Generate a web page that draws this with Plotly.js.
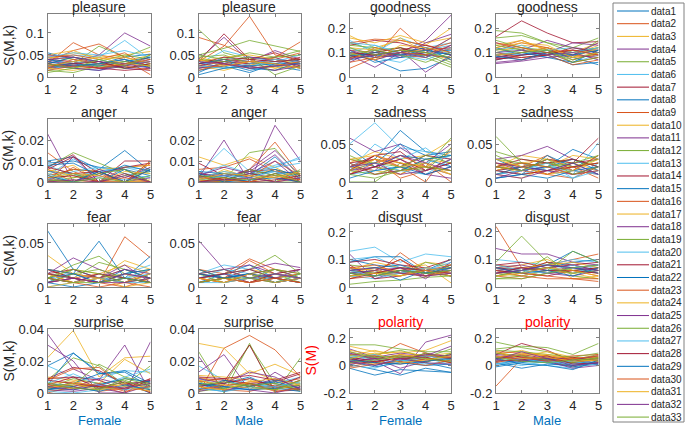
<!DOCTYPE html>
<html><head><meta charset="utf-8">
<script src="https://cdn.plot.ly/plotly-3.0.1.min.js"></script>
<style>html,body{margin:0;padding:0;background:#fff}#chart{width:685px;height:429px}</style>
</head><body><div id="chart"></div>
<script>
// x categories (k = 1..5)
const xCats = [1, 2, 3, 4, 5];
const seriesNames = ['data1','data2','data3','data4','data5','data6','data7','data8','data9','data10','data11','data12','data13','data14','data15','data16','data17','data18','data19','data20','data21','data22','data23','data24','data25','data26','data27','data28','data29','data30','data31','data32','data33'];
const groupLabels = ['Female', 'Male'];

// values in units of 0.001
const pleasureF = [[55,40,30,45,52],[30,78,50,40,5],[40,55,45,50,58],[25,35,50,100,70],[20,30,70,45,68],[35,50,45,83,40],[50,45,30,40,25],[25,20,15,30,35],[35,60,75,45,30],[45,40,25,35,50],[20,25,30,20,15],[30,45,35,50,40],[15,30,40,25,45],[40,35,20,30,45],[30,45,35,20,25],[45,50,40,55,20],[20,15,25,30,35],[35,30,20,25,40],[15,10,25,20,30],[25,35,30,40,30],[30,25,20,15,20],[40,30,25,35,45],[20,40,30,25,15],[50,60,40,45,30],[30,20,15,25,35],[10,20,30,35,25],[45,55,50,60,45],[25,30,35,20,30],[35,25,30,40,20],[15,25,20,30,40],[25,35,45,30,25],[40,45,35,30,20],[30,20,40,25,50]];
const pleasureM = [[10,35,20,25,15],[90,72,45,40,55],[30,20,25,15,30],[40,90,35,60,40],[108,55,40,45,60],[30,60,45,35,50],[35,98,40,55,35],[20,30,15,25,40],[35,70,138,50,40],[45,30,40,20,35],[25,40,30,45,20],[50,65,83,70,58],[20,45,35,25,30],[30,40,35,30,45],[15,25,10,30,20],[40,30,25,45,80],[25,15,30,20,25],[30,35,45,40,35],[45,50,30,35,40],[35,20,25,35,30],[25,35,30,40,25],[30,40,20,15,35],[20,25,35,30,20],[35,45,50,40,30],[20,30,25,15,25],[40,35,45,5,25],[25,20,30,40,35],[30,45,40,35,40],[5,20,25,30,30],[15,30,20,25,35],[40,25,35,30,20],[35,30,20,25,30],[50,40,55,45,50]];
const goodnessF = [[100,70,25,35,80],[35,80,200,110,90],[170,120,150,130,200],[90,40,100,150,253],[140,110,120,100,60],[150,100,160,120,140],[130,150,140,110,120],[110,60,80,90,100],[140,155,150,130,110],[160,140,170,140,160],[100,90,110,20,90],[80,100,120,80,40],[120,80,60,110,130],[90,70,100,120,90],[70,90,80,100,110],[110,100,90,80,120],[80,90,110,100,70],[60,110,80,140,175],[130,120,100,90,50],[100,130,90,70,110],[80,100,120,90,80],[95,80,100,120,70],[70,120,100,110,140],[120,110,160,100,160],[110,80,90,100,160],[90,110,90,60,100],[140,130,100,80,120],[100,90,110,130,100],[85,100,90,110,90],[60,80,100,90,130],[100,70,130,120,100],[75,90,100,80,130],[120,90,110,100,80]];
const goodnessM = [[80,100,90,50,60],[120,150,110,80,90],[100,130,120,90,130],[140,110,150,120,110],[190,180,140,120,160],[100,120,100,60,90],[165,230,180,140,145],[70,90,110,100,120],[110,140,120,70,100],[130,150,110,100,140],[60,70,90,110,100],[160,170,140,100,120],[90,110,80,90,110],[80,100,120,90,80],[120,90,100,80,50],[90,70,100,60,80],[110,120,90,100,110],[80,90,100,140,130],[150,120,110,80,150],[100,90,110,120,100],[70,90,100,110,90],[90,100,80,60,110],[100,80,90,50,70],[120,140,130,80,120],[55,65,80,90,140],[130,110,100,70,100],[110,130,90,100,120],[75,80,90,120,100],[85,70,100,90,110],[140,120,100,110,90],[90,100,120,80,100],[100,110,90,100,70],[115,100,110,60,80]];
// values in units of 0.0001
const angerF = [[100,120,60,150,50],[140,50,0,70,80],[50,80,0,0,100],[230,0,50,60,0],[70,140,90,40,0],[30,110,50,70,60],[70,130,0,100,100],[90,100,70,60,30],[60,0,40,0,90],[40,20,60,70,80],[0,120,0,0,0],[20,60,50,0,70],[80,30,50,70,40],[60,120,40,70,90],[50,40,0,60,0],[30,60,50,0,0],[0,0,0,0,0],[20,0,60,20,70],[0,40,0,30,50],[10,50,70,40,20],[70,40,50,0,60],[80,90,30,80,50],[0,70,0,0,100],[60,30,0,50,40],[10,0,30,0,20],[0,20,40,60,0],[40,0,20,10,30],[20,30,0,40,0],[30,0,50,0,60],[0,10,0,20,0],[20,40,30,0,10],[0,10,0,30,0],[10,0,20,0,30]];
const angerM = [[30,10,40,50,20],[50,0,60,190,30],[120,80,120,70,10],[20,200,0,270,100],[0,10,140,160,20],[40,160,50,70,120],[90,30,50,60,0],[20,40,30,120,10],[60,70,110,50,40],[20,50,30,60,20],[0,0,60,150,30],[10,0,50,0,0],[30,80,40,80,110],[40,20,60,30,0],[10,30,0,40,50],[30,0,20,100,30],[0,60,20,0,40],[40,30,50,130,10],[0,10,0,0,60],[20,50,30,70,90],[30,10,40,20,0],[50,40,20,60,30],[10,0,30,0,20],[0,20,0,30,10],[30,70,40,100,0],[20,0,60,30,40],[10,30,20,50,20],[0,20,0,10,30],[40,0,10,20,0],[20,10,0,40,10],[10,40,30,20,50],[0,10,20,0,20],[30,20,10,40,0]];
// values in units of 0.001
const sadnessF = [[20,30,68,40,35],[15,35,20,0,45],[25,40,30,35,55],[58,40,50,20,10],[0,0,25,20,58],[50,78,45,40,30],[20,35,40,15,25],[15,25,50,35,40],[30,20,10,25,0],[10,30,25,20,40],[20,15,45,25,50],[35,20,15,30,35],[15,50,30,45,20],[25,30,20,35,30],[45,20,35,30,20],[10,25,35,20,15],[20,15,10,30,25],[15,20,30,10,5],[30,25,20,15,45],[10,15,20,25,35],[15,35,25,10,20],[25,10,15,30,35],[20,30,5,15,30],[30,35,25,20,10],[10,20,35,25,15],[15,10,20,35,25],[20,25,15,10,30],[10,20,30,15,25],[5,15,20,10,20],[25,10,15,20,15],[15,30,20,25,10],[20,25,10,15,30],[10,5,15,20,15]];
const sadnessM = [[10,15,20,43,30],[25,20,35,15,10],[20,35,30,25,15],[30,35,47,30,20],[60,25,20,15,35],[15,20,25,10,52],[20,15,30,25,58],[5,10,35,20,25],[15,25,10,5,20],[10,5,20,35,30],[25,15,30,20,10],[35,20,25,30,20],[20,25,15,5,25],[15,20,10,25,30],[30,15,20,30,15],[10,20,25,15,35],[25,10,15,20,25],[5,15,20,10,15],[40,30,25,20,30],[15,10,20,15,10],[20,30,25,30,20],[10,20,15,25,10],[20,15,10,20,5],[15,25,30,20,25],[25,20,15,10,20],[30,25,20,25,35],[10,15,25,5,15],[15,10,15,20,25],[5,10,5,15,20],[20,25,20,10,15],[30,20,10,15,30],[10,5,15,25,10],[20,15,30,10,20]];
const fearF = [[64,20,10,5,15],[20,10,5,57,33],[36,15,10,30,20],[15,33,20,10,5],[10,25,35,15,20],[5,20,10,15,25],[20,10,5,15,10],[5,15,52,10,35],[15,5,10,20,10],[10,20,15,25,15],[20,15,10,25,5],[15,10,28,20,10],[10,5,15,10,20],[15,20,10,5,15],[10,15,5,20,10],[5,10,15,5,20],[20,15,10,15,5],[10,5,10,20,15],[5,15,20,10,5],[15,10,5,10,15],[10,5,15,10,5],[20,15,5,15,20],[5,10,5,0,10],[15,5,10,5,15],[5,10,5,15,10],[10,20,15,5,10],[0,5,10,5,5],[15,10,5,10,5],[5,0,5,10,5],[10,5,0,5,0],[0,5,10,0,5],[5,10,5,5,10],[10,5,5,10,5]];
const fearM = [[10,15,25,10,5],[20,15,32,20,15],[15,10,20,15,10],[53,20,25,15,20],[10,15,20,36,15],[15,25,20,10,15],[10,5,15,20,10],[5,10,15,5,10],[20,10,30,15,10],[10,15,5,10,15],[15,10,20,27,22],[5,10,15,20,10],[10,20,15,5,10],[15,10,5,15,20],[5,15,10,10,5],[10,5,15,10,15],[20,10,5,15,10],[5,10,15,5,10],[15,5,10,15,5],[10,15,10,5,15],[5,10,5,15,10],[15,10,15,10,5],[10,5,10,5,10],[5,10,5,10,5],[10,15,5,10,20],[15,20,10,5,15],[5,5,10,15,10],[10,15,20,10,5],[20,10,15,5,10],[5,10,5,10,5],[10,5,15,5,10],[15,20,10,15,10],[5,10,10,20,15]];
const disgustF = [[100,80,70,60,100],[50,40,125,60,70],[60,90,70,80,15],[120,30,60,40,80],[10,20,25,35,40],[130,145,90,120,110],[40,60,100,50,60],[90,110,110,50,80],[70,60,100,40,50],[50,70,60,90,80],[60,50,70,30,90],[80,70,50,60,70],[100,110,70,60,90],[90,100,80,70,100],[50,60,25,60,40],[40,50,60,70,60],[30,60,50,40,70],[70,40,60,50,60],[60,50,40,90,70],[40,30,50,60,50],[80,30,40,60,40],[60,70,80,50,60],[30,40,50,60,80],[70,60,40,70,50],[50,60,70,40,70],[40,50,60,50,40],[60,40,50,70,60],[30,50,70,60,50],[50,40,60,50,70],[70,80,50,40,60],[40,50,40,60,40],[60,70,50,40,50],[50,40,60,50,60]];
const disgustM = [[70,60,80,130,90],[220,70,80,100,120],[80,60,90,30,40],[140,120,120,90,80],[90,185,90,60,70],[100,90,80,100,90],[70,60,90,80,60],[60,50,70,90,100],[80,70,60,50,70],[70,80,100,60,50],[50,60,70,80,60],[40,50,110,40,30],[60,70,60,50,80],[80,90,70,80,90],[50,60,50,70,60],[40,30,50,60,40],[60,70,80,90,70],[70,80,60,70,80],[30,40,60,130,90],[50,40,60,80,50],[60,50,40,60,70],[40,60,80,70,50],[70,50,40,30,20],[50,40,60,50,30],[60,70,50,40,60],[40,60,70,50,60],[80,60,50,70,80],[50,70,60,60,50],[70,50,60,40,70],[60,40,30,30,30],[40,50,70,60,40],[50,60,80,70,60],[30,30,50,70,80]];
// values in units of 0.0001
const surpriseF = [[170,250,130,60,0],[30,50,40,20,80],[220,390,100,220,230],[370,150,80,300,0],[80,220,170,50,170],[170,100,90,140,130],[90,160,140,60,70],[50,250,120,140,60],[20,70,40,0,90],[100,80,60,210,120],[300,200,0,0,320],[30,90,60,80,20],[60,120,50,100,150],[90,100,80,20,80],[40,60,120,130,40],[80,150,160,40,10],[10,30,20,60,30],[60,40,90,50,80],[20,50,180,100,60],[70,30,60,20,40],[50,100,30,70,0],[30,20,50,90,70],[0,40,10,30,60],[60,70,40,50,20],[20,10,30,0,50],[40,60,30,70,40],[10,0,20,40,30],[80,60,40,30,90],[20,40,10,50,20],[50,30,60,10,40],[30,60,20,40,10],[40,20,50,30,60],[60,30,20,90,50]];
const surpriseM = [[60,30,50,40,20],[0,280,360,270,100],[310,280,120,180,110],[230,10,60,20,80],[260,0,310,0,220],[170,80,60,40,30],[90,80,60,70,120],[40,60,100,30,50],[80,40,70,60,90],[100,60,140,80,40],[130,240,20,130,40],[20,50,300,60,10],[50,30,90,60,100],[40,70,300,10,20],[30,10,40,80,60],[70,90,50,30,80],[110,100,80,40,70],[60,20,40,90,30],[10,30,60,20,50],[90,40,20,50,60],[50,60,90,40,100],[20,80,40,70,30],[40,20,10,50,20],[80,50,30,20,60],[10,40,20,0,40],[70,30,50,60,20],[30,10,30,40,70],[100,90,110,80,130],[60,40,20,30,10],[20,50,60,10,30],[40,20,70,90,50],[90,60,130,100,20],[50,70,40,20,80]];
// values in units of 0.001
const polarityF = [[-20,-70,-30,-40,-50],[20,60,160,90,40],[140,100,90,110,180],[60,30,-60,170,220],[150,150,120,100,100],[90,20,60,40,80],[40,70,30,90,60],[10,-30,-70,-20,-50],[100,40,80,60,20],[70,110,60,80,50],[120,60,90,70,140],[50,80,110,60,120],[80,40,20,60,0],[30,50,70,40,80],[60,0,40,20,-20],[-10,30,10,50,30],[110,80,100,70,90],[20,50,-20,30,60],[70,60,30,90,40],[0,-20,40,10,30],[50,20,60,70,50],[30,-10,20,0,10],[80,70,50,30,60],[40,10,80,50,20],[90,50,40,80,70],[20,40,60,20,90],[60,80,30,70,40],[10,30,50,60,20],[40,20,10,30,50],[-20,10,30,0,40],[50,90,20,40,70],[30,0,50,20,10],[100,60,70,50,30]];
const polarityM = [[20,-20,10,0,30],[-150,50,30,-10,20],[80,110,60,40,70],[60,40,20,30,50],[170,130,100,40,80],[30,60,40,10,40],[80,160,110,30,60],[0,30,20,-10,10],[100,90,70,50,60],[50,70,100,60,40],[70,50,40,20,10],[120,140,130,80,160],[40,20,0,-20,30],[60,80,50,20,40],[10,40,30,0,20],[90,60,50,70,80],[30,80,70,40,60],[80,60,30,-20,0],[110,100,80,60,90],[20,0,30,10,50],[50,70,40,60,30],[-10,20,50,30,10],[70,40,60,20,50],[60,90,80,50,30],[40,30,60,40,70],[90,70,40,20,60],[10,50,20,30,0],[30,40,70,10,20],[50,10,0,-30,40],[20,60,30,50,70],[100,50,60,30,40],[40,100,50,0,20],[60,30,20,40,50]];

// tick values / labels
const tickPleasure = [0, 0.05, 0.1], lblPleasure = ['0', '0.05', '0.1'];
const tickGoodness = [0, 0.1, 0.2], lblGoodness = ['0', '0.1', '0.2'];
const tickAnger = [0, 0.01, 0.02], lblAnger = ['0', '0.01', '0.02'];
const tickSadness = [0, 0.05], lblSadness = ['0', '0.05'];
const tickFear = [0, 0.05], lblFear = ['0', '0.05'];
const tickDisgust = [0, 0.1, 0.2], lblDisgust = ['0', '0.1', '0.2'];
const tickSurprise = [0, 0.02, 0.04], lblSurprise = ['0', '0.02', '0.04'];
const tickPolarity = [-0.2, 0, 0.2], lblPolarity = ['-0.2', '0', '0.2'];

const panels = [
  {t:'pleasure', d:pleasureF, s:1e-3, r:[0,0.143], tv:tickPleasure, tt:lblPleasure, row:0, col:0},
  {t:'pleasure', d:pleasureM, s:1e-3, r:[0,0.143], tv:tickPleasure, tt:lblPleasure, row:0, col:1},
  {t:'goodness', d:goodnessF, s:1e-3, r:[0,0.258], tv:tickGoodness, tt:lblGoodness, row:0, col:2},
  {t:'goodness', d:goodnessM, s:1e-3, r:[0,0.258], tv:tickGoodness, tt:lblGoodness, row:0, col:3},
  {t:'anger', d:angerF, s:1e-4, r:[0,0.03], tv:tickAnger, tt:lblAnger, row:1, col:0},
  {t:'anger', d:angerM, s:1e-4, r:[0,0.03], tv:tickAnger, tt:lblAnger, row:1, col:1},
  {t:'sadness', d:sadnessF, s:1e-3, r:[0,0.083], tv:tickSadness, tt:lblSadness, row:1, col:2},
  {t:'sadness', d:sadnessM, s:1e-3, r:[0,0.083], tv:tickSadness, tt:lblSadness, row:1, col:3},
  {t:'fear', d:fearF, s:1e-3, r:[0,0.0715], tv:tickFear, tt:lblFear, row:2, col:0},
  {t:'fear', d:fearM, s:1e-3, r:[0,0.0715], tv:tickFear, tt:lblFear, row:2, col:1},
  {t:'disgust', d:disgustF, s:1e-3, r:[0,0.229], tv:tickDisgust, tt:lblDisgust, row:2, col:2},
  {t:'disgust', d:disgustM, s:1e-3, r:[0,0.229], tv:tickDisgust, tt:lblDisgust, row:2, col:3},
  {t:'surprise', d:surpriseF, s:1e-4, r:[0,0.04], tv:tickSurprise, tt:lblSurprise, row:3, col:0},
  {t:'surprise', d:surpriseM, s:1e-4, r:[0,0.04], tv:tickSurprise, tt:lblSurprise, row:3, col:1},
  {t:'polarity', d:polarityF, s:1e-3, r:[-0.2,0.265], tv:tickPolarity, tt:lblPolarity, row:3, col:2, red:true},
  {t:'polarity', d:polarityM, s:1e-3, r:[-0.2,0.265], tv:tickPolarity, tt:lblPolarity, row:3, col:3, red:true}
];

const colors = ['#0072BD','#D95319','#EDB120','#7E2F8E','#77AC30','#4DBEEE','#A2142F'];
const W = 685, H = 429;
const colL = [47.5, 198.5, 349.5, 496], colR = [150.5, 300.5, 451, 598.5];
const rowT = [14, 119, 224, 329], rowB = [77, 182, 287, 393];
const px = v => v / W, py = v => 1 - v / H;
const ink = '#262626', boxCol = '#808080';
const font = 'Liberation Sans, Arial, sans-serif';

const traces = [];
const layout = {
  width: W, height: H, margin: {l:0, r:0, t:0, b:0},
  paper_bgcolor: '#fff', plot_bgcolor: '#fff', showlegend: false,
  font: {family: font, color: ink, size: 12},
  annotations: [], shapes: []
};

panels.forEach((p, i) => {
  const n = i + 1, sx = n === 1 ? '' : n;
  const xa = 'x' + sx, ya = 'y' + sx;
  layout['xaxis' + sx] = {
    domain: [px(colL[p.col]), px(colR[p.col])], anchor: ya, range: [1, 5],
    tickvals: xCats, ticktext: xCats.map(String), ticks: 'inside', ticklen: 3, tickcolor: boxCol,
    showline: true, linecolor: boxCol, linewidth: 1, mirror: 'ticks', showgrid: false, zeroline: false,
    tickfont: {size: 13, color: ink, family: font}, fixedrange: true
  };
  layout['yaxis' + sx] = {
    domain: [py(rowB[p.row]), py(rowT[p.row])], anchor: xa, range: p.r,
    tickvals: p.tv, ticktext: p.tt, ticks: 'inside', ticklen: 3, tickcolor: boxCol,
    showline: true, linecolor: boxCol, linewidth: 1, mirror: 'ticks', showgrid: false, zeroline: false,
    tickfont: {size: 13, color: ink, family: font}, fixedrange: true
  };
  p.d.forEach((row, k) => {
    traces.push({
      type: 'scatter', mode: 'lines', x: xCats, y: row.map(v => v * p.s),
      xaxis: xa, yaxis: ya, name: seriesNames[k], showlegend: false,
      line: {color: colors[k % 7], width: 0.8}, hoverinfo: 'skip'
    });
  });
  // panel title
  layout.annotations.push({
    xref: 'paper', yref: 'paper', x: px((colL[p.col] + colR[p.col]) / 2), y: py(rowT[p.row] - 7),
    xanchor: 'center', yanchor: 'middle', borderpad: 0, showarrow: false, text: p.t,
    font: {size: 14, color: p.red ? '#FF0000' : ink, family: font}
  });
  // y labels
  if (p.col === 0 || p.red && p.col === 2) {
    layout.annotations.push({
      xref: 'paper', yref: 'paper', x: px(colL[p.col] - 39), y: py((rowT[p.row] + rowB[p.row]) / 2),
      xanchor: 'center', yanchor: 'middle', textangle: -90, showarrow: false,
      text: p.red ? 'S(M)' : 'S(M,k)', font: {size: 14, color: p.red ? '#FF0000' : ink, family: font}
    });
  }
  // x labels
  if (p.row === 3) {
    layout.annotations.push({
      xref: 'paper', yref: 'paper', x: px((colL[p.col] + colR[p.col]) / 2), y: py(420),
      xanchor: 'center', yanchor: 'middle', borderpad: 0, showarrow: false,
      text: groupLabels[p.col % 2], font: {size: 13, color: '#0072BD', family: font}
    });
  }
});

// legend drawn as a framed list
const legX0 = 613, legX1 = 684, legY0 = 3, legY1 = 422, legFirst = 11, legStep = 12.69;
layout.shapes.push({type: 'rect', xref: 'paper', yref: 'paper', x0: px(legX0), x1: px(legX1), y0: py(legY1), y1: py(legY0),
  line: {color: boxCol, width: 1}, fillcolor: '#fff'});
seriesNames.forEach((name, k) => {
  const yy = py(legFirst + k * legStep);
  layout.shapes.push({type: 'line', xref: 'paper', yref: 'paper', x0: px(617), x1: px(649), y0: yy, y1: yy,
    line: {color: colors[k % 7], width: 1}});
  layout.annotations.push({xref: 'paper', yref: 'paper', x: px(650), y: yy, xanchor: 'left', yanchor: 'middle',
    borderpad: 0, showarrow: false, text: name, font: {size: 10, color: ink, family: font}});
});

Plotly.newPlot('chart', traces, layout, {displayModeBar: false, staticPlot: true});
</script>
</body></html>
